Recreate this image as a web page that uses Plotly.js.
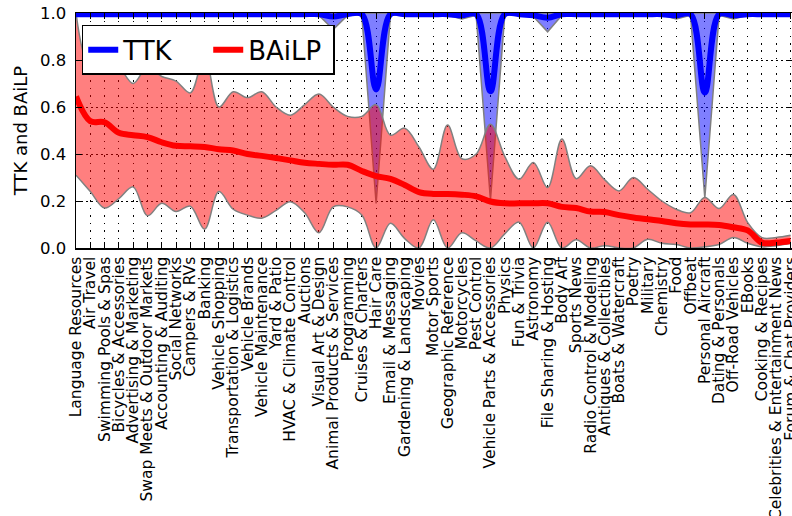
<!DOCTYPE html>
<html>
<head>
<meta charset="utf-8">
<script src="https://cdn.plot.ly/plotly-3.0.1.min.js"></script>
<style>html,body{margin:0;padding:0;background:#fff;overflow:hidden;}#chart{width:792px;height:516px;}</style>
</head>
<body>
<div id="chart"></div>
<script>
const categories = [
  "Language Resources","Air Travel","Swimming Pools & Spas","Bicycles & Accessories",
  "Advertising & Marketing","Swap Meets & Outdoor Markets","Accounting & Auditing",
  "Social Networks","Campers & RVs","Banking","Vehicle Shopping","Transportation & Logistics",
  "Vehicle Brands","Vehicle Maintenance","Yard & Patio","HVAC & Climate Control","Auctions",
  "Visual Art & Design","Animal Products & Services","Programming","Cruises & Charters",
  "Hair Care","Email & Messaging","Gardening & Landscaping","Movies","Motor Sports",
  "Geographic Reference","Motorcycles","Pest Control","Vehicle Parts & Accessories","Physics",
  "Fun & Trivia","Astronomy","File Sharing & Hosting","Body Art","Sports News",
  "Radio Control & Modeling","Antiques & Collectibles","Boats & Watercraft","Poetry","Military",
  "Chemistry","Food","Offbeat","Personal Aircraft","Dating & Personals","Off-Road Vehicles",
  "EBooks","Cooking & Recipes","Celebrities & Entertainment News","Forum & Chat Providers"
];

const bailpMean = [0.645,0.54,0.535,0.49,0.48,0.472,0.45,0.435,0.433,0.43,0.42,0.415,0.40,0.392,0.383,
  0.373,0.363,0.358,0.354,0.354,0.328,0.306,0.294,0.268,0.238,0.23,0.23,0.227,0.22,0.198,0.19,0.19,
  0.19,0.19,0.175,0.17,0.155,0.153,0.14,0.13,0.122,0.115,0.105,0.1,0.1,0.098,0.088,0.075,0.023,0.023,0.03];
const bailpMax = [1.0,0.77,0.80,0.77,0.70,0.77,0.73,0.71,0.66,0.82,0.60,0.665,0.64,0.665,0.60,
  0.565,0.61,0.655,0.60,0.56,0.56,0.61,0.48,0.51,0.43,0.335,0.523,0.38,0.40,0.527,0.39,0.293,
  0.364,0.257,0.464,0.295,0.35,0.29,0.243,0.30,0.25,0.20,0.165,0.15,0.215,0.168,0.228,0.108,0.044,0.045,0.054];
const bailpMin = [0.31,0.24,0.17,0.21,0.26,0.137,0.19,0.155,0.178,0.08,0.24,0.165,0.14,0.127,0.16,
  0.197,0.15,0.065,0.175,0.175,0.14,0.0,0.105,0.04,0.0,0.12,0.0,0.065,0.03,0.0,0.06,0.11,
  0.0,0.11,0.0,0.035,0.0,0.01,0.0,0.0,0.037,0.02,0.015,0.0,0.005,0.015,0.045,0.02,0.005,0.01,0.02];
const ttkMean = [0.995,0.995,0.995,0.995,0.995,0.995,0.995,0.995,0.995,0.995,0.995,0.995,0.995,0.995,0.995,
  0.995,0.995,0.995,0.985,0.995,0.995,0.675,0.995,0.995,0.995,0.995,0.995,0.99,0.995,0.667,0.995,0.995,
  0.99,0.98,0.995,0.995,0.995,0.995,0.995,0.995,0.995,0.995,0.99,0.995,0.662,0.995,0.99,0.995,0.995,0.995,0.995];
const ttkMax = [1,1,1,1,1,1,1,1,1,1,1,1,1,1,1,1,1,1,1,1,1,1,1,1,1,1,1,1,1,1,1,1,1,1,1,1,1,1,1,1,1,1,1,1,1,1,1,1,1,1,1];
const ttkMin = [0.99,0.99,0.99,0.99,0.99,0.99,0.99,0.99,0.99,0.99,0.99,0.99,0.99,0.99,0.99,
  0.99,0.99,0.99,0.93,0.99,0.99,0.19,0.99,0.99,0.99,0.99,0.99,0.975,0.99,0.205,0.99,0.99,
  0.985,0.92,0.99,0.99,0.99,0.99,0.99,0.99,0.99,0.99,0.975,0.99,0.213,0.99,0.975,0.99,0.99,0.99,0.99];
const yTicks = [0, 0.2, 0.4, 0.6, 0.8, 1.0];

const idx = categories.map((_, i) => i);
const edge = {color: "#808080", width: 1.5, shape: "spline", smoothing: 1};
const edgeLin = {color: "#808080", width: 1.5, shape: "linear"};

const traces = [
  {x: idx, y: ttkMin, mode: "lines", line: edgeLin, showlegend: false, hoverinfo: "skip"},
  {x: idx, y: ttkMax, mode: "lines", line: edgeLin, fill: "tonexty", fillcolor: "rgba(0,0,255,0.5)", showlegend: false, hoverinfo: "skip"},
  {x: idx, y: bailpMin, mode: "lines", line: edge, showlegend: false, hoverinfo: "skip"},
  {x: idx, y: bailpMax, mode: "lines", line: edge, fill: "tonexty", fillcolor: "rgba(255,0,0,0.5)", showlegend: false, hoverinfo: "skip"},
  {x: idx, y: ttkMean, mode: "lines", name: "TTK", line: {color: "#0000ff", width: 6, shape: "spline"}},
  {x: idx, y: bailpMean, mode: "lines", name: "BAiLP", line: {color: "#ff0000", width: 6, shape: "spline"}}
];

const font = "DejaVu Sans, sans-serif";
const layout = {
  width: 792, height: 516,
  margin: {l: 76, r: 0, t: 13, b: 268},
  paper_bgcolor: "#fff", plot_bgcolor: "#fff",
  font: {family: font, color: "#000"},
  showlegend: true,
  legend: {
    orientation: "h", x: 0.008, y: 0.95, xanchor: "left", yanchor: "top",
    traceorder: "normal",
    bgcolor: "#fff", bordercolor: "#000", borderwidth: 1.5,
    font: {family: font, size: 26, color: "#000"},
    entrywidth: 80
  },
  xaxis: {
    range: [0, 50.1],
    tickmode: "array", tickvals: idx, ticktext: categories,
    tickangle: -90, tickfont: {family: font, size: 15.5, color: "#000"},
    ticks: "inside", ticklen: 6, tickwidth: 1, tickcolor: "#000",
    showline: true, linecolor: "#000", linewidth: 1.5, mirror: "ticks",
    showgrid: true, gridcolor: "#000", gridwidth: 1, griddash: "1.5px,6px",
    zeroline: false, ticklabelstandoff: 1, ticklabeloverflow: "allow"
  },
  yaxis: {
    range: [0, 1],
    tickmode: "array", tickvals: yTicks, tickformat: ".1f",
    tickfont: {family: font, size: 16.5, color: "#000"},
    ticks: "inside", ticklen: 6, tickwidth: 1, tickcolor: "#000",
    showline: true, linecolor: "#000", linewidth: 1.5, mirror: "ticks",
    showgrid: true, gridcolor: "#000", gridwidth: 1, griddash: "2px,3px",
    zeroline: false, ticklabelstandoff: 5,
    title: {text: "TTK and BAiLP", font: {family: font, size: 18, color: "#000"}, standoff: 7}
  }
};

Plotly.newPlot("chart", traces, layout, {displayModeBar: false, staticPlot: true});
</script>
</body>
</html>
